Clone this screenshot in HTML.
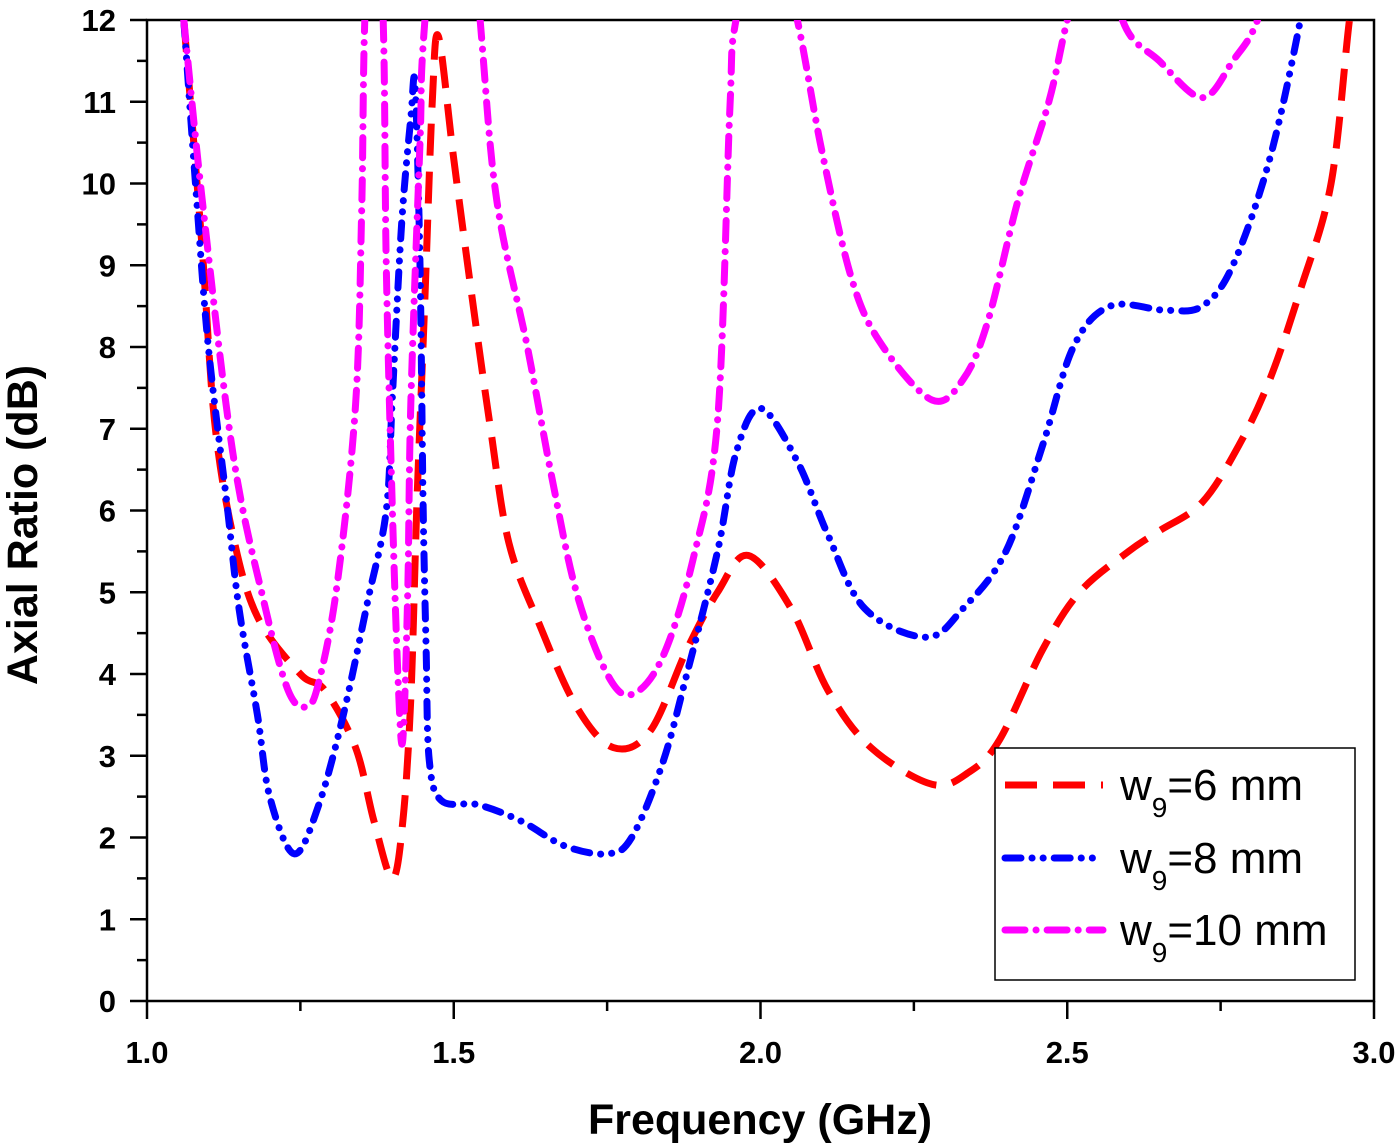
<!DOCTYPE html>
<html><head><meta charset="utf-8"><style>
html,body{margin:0;padding:0;background:#fff}
svg{display:block}
text{font-family:"Liberation Sans",Arial,sans-serif;font-weight:bold;fill:#000}
</style></head><body>
<svg id="chart" width="1400" height="1147">
<defs><clipPath id="pc"><rect x="147" y="20" width="1227" height="981"/></clipPath></defs>
<g id="axes"></g>
<g id="series" clip-path="url(#pc)"></g>
<text x="760" y="1134" font-size="43" text-anchor="middle">Frequency (GHz)</text>
<text transform="translate(37,525) rotate(-90)" font-size="43" text-anchor="middle">Axial Ratio (dB)</text>
<g id="legend">
<rect x="995" y="748" width="360" height="232" fill="#fff" stroke="#000" stroke-width="1.5"/>
</g>
</svg>
<script>
const xTicks=[1.0,1.5,2.0,2.5,3.0];
const xTickLabels=["1.0","1.5","2.0","2.5","3.0"];
const yTicks=[0,1,2,3,4,5,6,7,8,9,10,11,12];
const seriesNames=["w9=6 mm","w9=8 mm","w9=10 mm"];
const redF=[1.06,1.09,1.11,1.14,1.18,1.25,1.29,1.34,1.37,1.40,1.417,1.43,1.44,1.453,1.465,1.475,1.50,1.53,1.56,1.59,1.64,1.70,1.76,1.82,1.88,1.93,1.98,2.05,2.11,2.18,2.28,2.34,2.39,2.46,2.52,2.60,2.65,2.72,2.78,2.83,2.88,2.93,2.96,2.98];
const redV=[12,9.2,7.1,5.7,4.7,4.0,3.8,3.1,2.2,1.5,2.2,3.7,6.1,8.6,11.0,11.8,10.3,8.6,7.0,5.6,4.6,3.6,3.1,3.3,4.3,5.0,5.45,4.8,3.8,3.1,2.65,2.8,3.2,4.3,5.0,5.5,5.75,6.1,6.8,7.6,8.7,10.0,12,13];
const blueF=[1.06,1.08,1.10,1.13,1.15,1.18,1.20,1.24,1.28,1.32,1.36,1.39,1.40,1.415,1.43,1.437,1.445,1.45,1.455,1.46,1.48,1.54,1.61,1.68,1.75,1.79,1.84,1.88,1.93,1.96,2.00,2.06,2.11,2.17,2.27,2.33,2.40,2.46,2.51,2.57,2.66,2.72,2.77,2.83,2.88,2.90];
const blueV=[12,9.9,8.0,6.1,4.8,3.5,2.5,1.8,2.4,3.5,4.9,6.0,7.4,9.5,10.8,11.2,9.0,6.1,4.3,2.95,2.45,2.4,2.2,1.9,1.8,2.0,2.9,4.0,5.5,6.7,7.25,6.6,5.7,4.8,4.45,4.8,5.5,6.8,8.0,8.5,8.45,8.5,9.0,10.3,12,13];
const magF=[1.06,1.09,1.14,1.19,1.23,1.26,1.28,1.31,1.34,1.35,1.355,1.37,1.385,1.39,1.40,1.41,1.417,1.425,1.43,1.445,1.453,1.50,1.543,1.57,1.62,1.66,1.70,1.75,1.79,1.84,1.89,1.93,1.95,1.96,2.01,2.06,2.10,2.15,2.20,2.28,2.33,2.37,2.42,2.47,2.50,2.55,2.59,2.65,2.72,2.77,2.81,2.84];
const magV=[12,9.8,6.7,4.9,3.8,3.6,3.9,5.1,7.3,9.7,12,14.5,12,9,6,3.8,3.2,5,7.3,10.5,12,16,12,9.8,8.0,6.4,5.0,4.0,3.75,4.2,5.4,7.1,10.9,12,13.5,12,10.4,8.8,8.0,7.35,7.6,8.3,9.8,11.0,12,13.5,12,11.5,11.05,11.5,12,13];
const X=f=>147+(f-1)*613.5, Y=v=>1001-v*81.75;
const NS="http://www.w3.org/2000/svg";
function mk(t,a,p){const e=document.createElementNS(NS,t);for(const k in a)e.setAttribute(k,a[k]);p.appendChild(e);return e;}
const ax=document.getElementById('axes');
mk('rect',{x:147,y:20,width:1227,height:981,fill:'none',stroke:'#000','stroke-width':2.5},ax);
xTicks.forEach((t,i)=>{
 const l=mk('line',{x1:X(t),x2:X(t),y1:1001,y2:1019,stroke:'#000','stroke-width':2.5},ax);
 
 
 if(i<xTicks.length-1){const m=mk('line',{x1:X(t+0.25),x2:X(t+0.25),y1:1001,y2:1011,stroke:'#000','stroke-width':2.5},ax);
 
 }
 const tx=mk('text',{x:X(t),y:1063,'font-size':31,'text-anchor':'middle'},ax);tx.textContent=xTickLabels[i];
 
 
});
yTicks.forEach((t,i)=>{
 const l=mk('line',{x1:130,x2:147,y1:Y(t),y2:Y(t),stroke:'#000','stroke-width':2.5},ax);
 
 
 if(i<yTicks.length-1){const m=mk('line',{x1:137,x2:147,y1:Y(t+0.5),y2:Y(t+0.5),stroke:'#000','stroke-width':2.5},ax);
 
 }
 const tx=mk('text',{x:116,y:Y(t)+11,'font-size':31,'text-anchor':'end'},ax);tx.textContent=String(t);
 
 
});
function pathD(F,V){const p=F.map((f,i)=>[X(f),Y(V[i])]);let d='M'+p[0][0]+','+p[0][1];
 for(let i=0;i<p.length-1;i++){const p0=p[i-1]||p[i],p1=p[i],p2=p[i+1],p3=p[i+2]||p2;
  const c1=[p1[0]+(p2[0]-p0[0])/6,p1[1]+(p2[1]-p0[1])/6],c2=[p2[0]-(p3[0]-p1[0])/6,p2[1]-(p3[1]-p1[1])/6];
  d+=' C'+c1.join(',')+' '+c2.join(',')+' '+p2.join(',');}
 return d;}
const styles=[{c:'#ff0000',da:'32 16',cap:'butt'},{c:'#0000ff',da:'16 11 0.1 11 0.1 11',cap:'round'},{c:'#ff00ff',da:'20 11 0.1 11',cap:'round'}];
const data=[[redF,redV],[blueF,blueV],[magF,magV]];
const sg=document.getElementById('series');
data.forEach((s,i)=>{
 const p=mk('path',{d:pathD(s[0],s[1]),fill:'none',stroke:styles[i].c,'stroke-width':7,'stroke-dasharray':styles[i].da,'stroke-linecap':styles[i].cap},sg);
 
 
});
const lg=document.getElementById('legend');
[785,858,930].forEach((y,i)=>{
 const l=mk('line',{x1:1005,x2:1103,y1:y,y2:y,stroke:styles[i].c,'stroke-width':7,'stroke-dasharray':styles[i].da,'stroke-linecap':styles[i].cap},lg);
 
 
 const t=mk('text',{x:1120,y:y+15,'font-size':44},lg);
 
 
 t.style.fontWeight='normal';
 const parts=seriesNames[i].split('9');
 t.appendChild(document.createTextNode('w'));
 const s=mk('tspan',{dy:17,'font-size':28},t);s.textContent='9';s.style.fontWeight='normal';
 const r=mk('tspan',{dy:-17},t);r.textContent=parts[1];r.style.fontWeight='normal';
});
</script>
</body></html>
